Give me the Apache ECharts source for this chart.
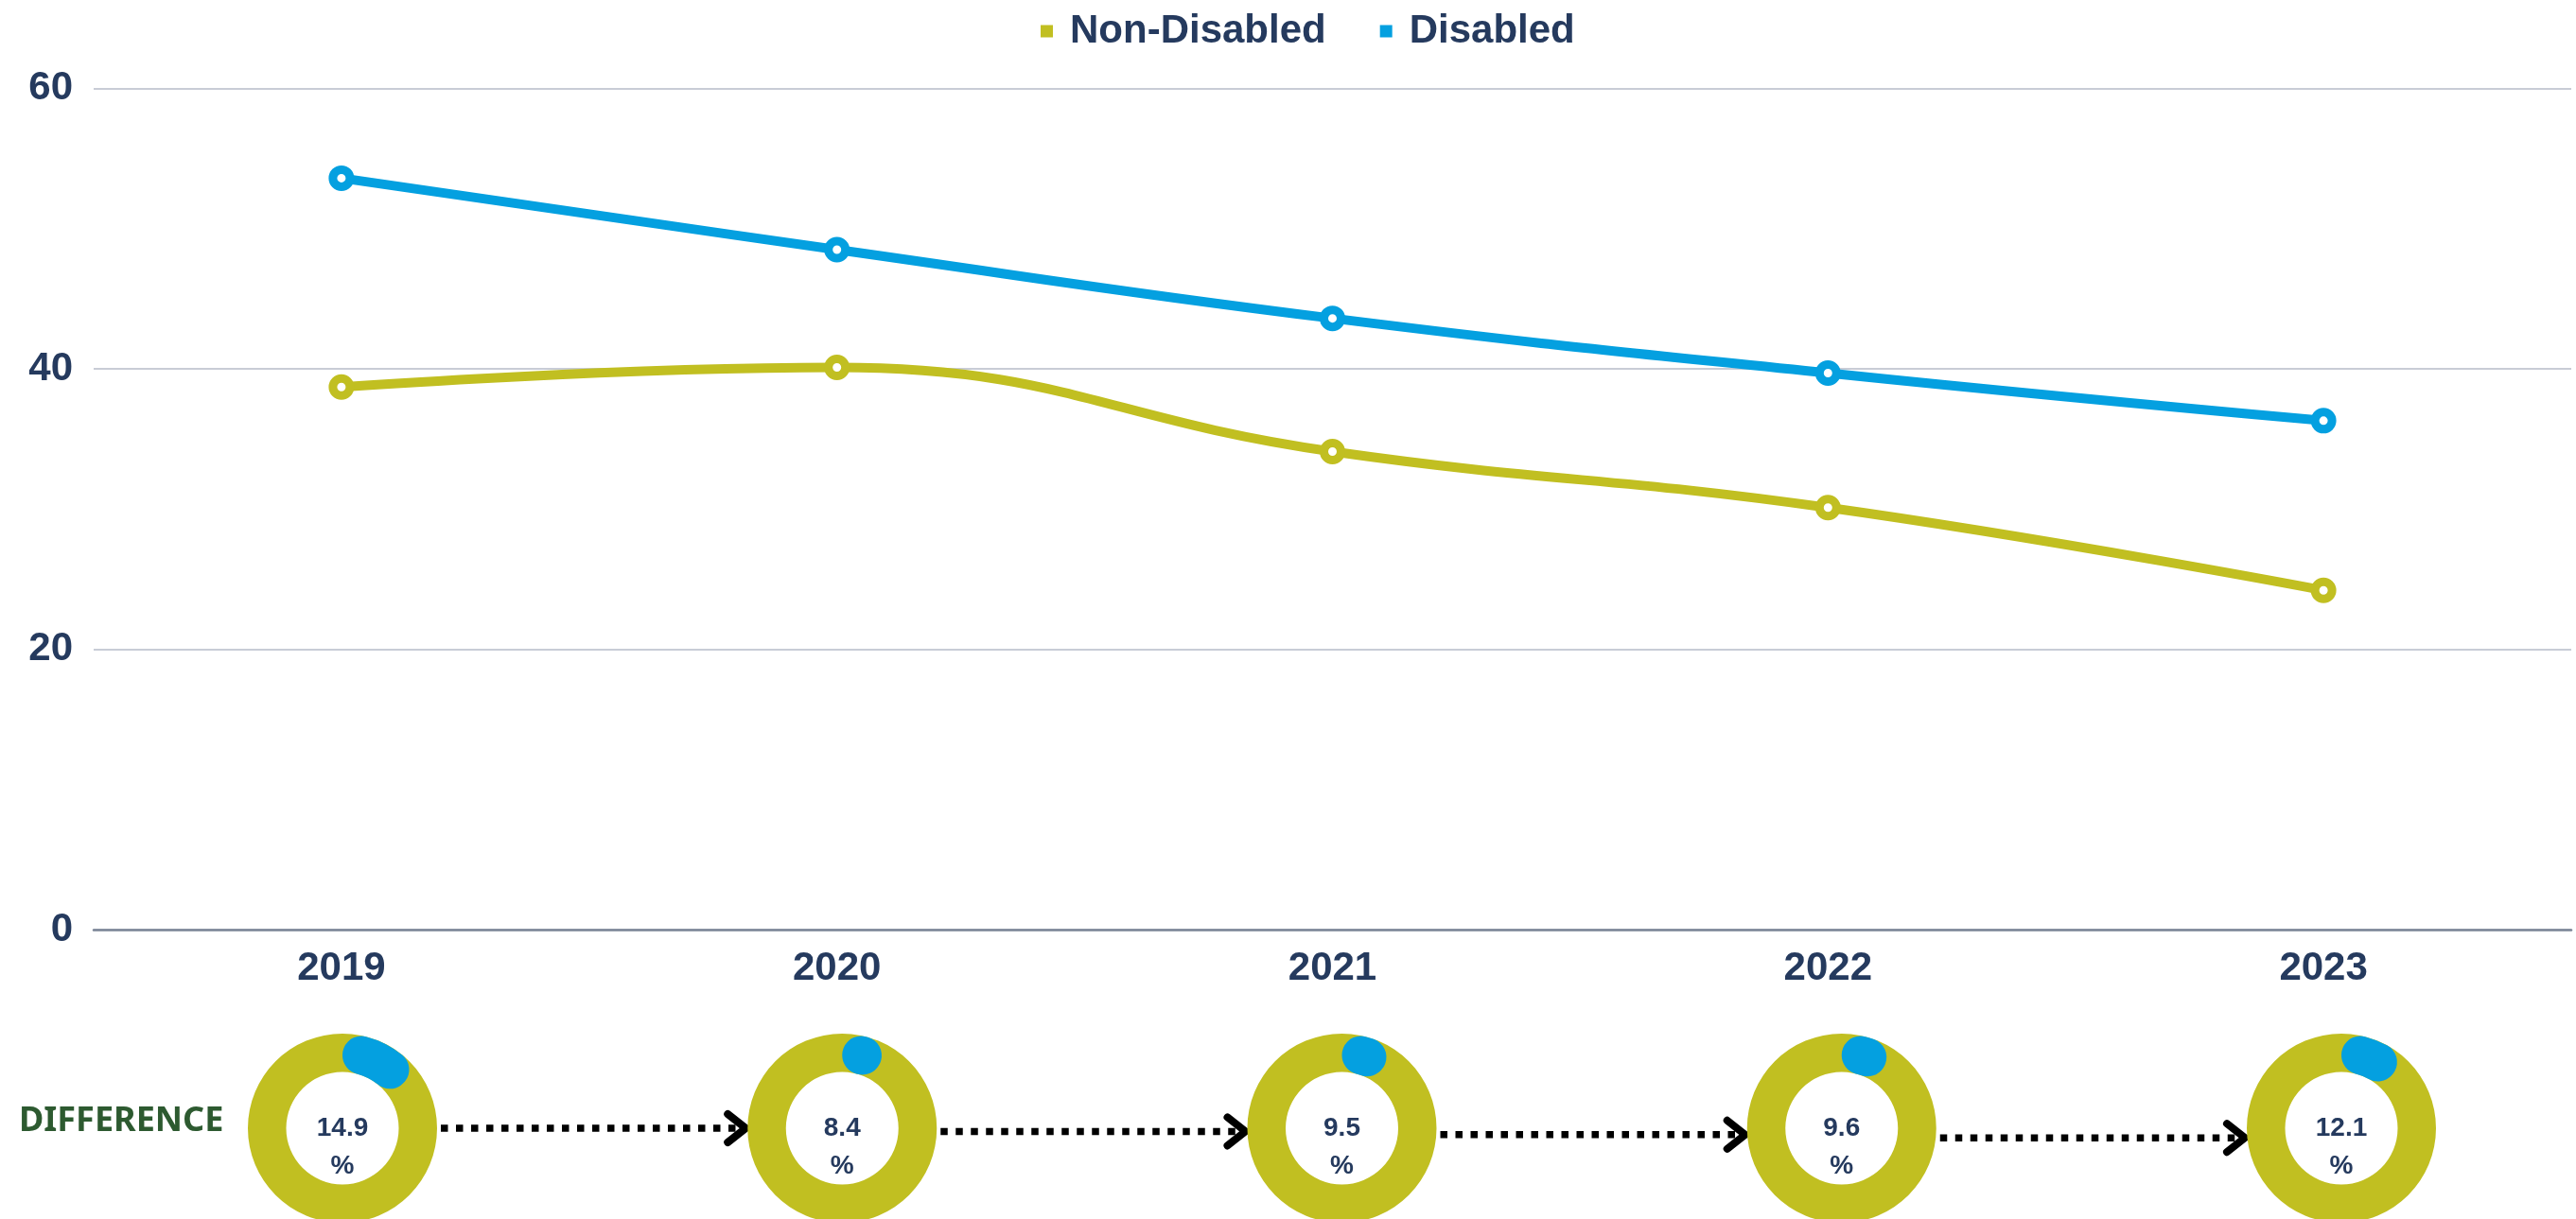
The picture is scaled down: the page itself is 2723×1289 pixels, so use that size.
<!DOCTYPE html>
<html>
<head>
<meta charset="utf-8">
<style>
  html, body { margin: 0; padding: 0; background: #ffffff; }
  #chart { width: 2723px; height: 1289px; }
</style>
<script src="https://cdn.jsdelivr.net/npm/echarts@6/dist/echarts.min.js"></script>
</head>
<body>
<div id="chart"></div>
<script>
// Years on the category axis
const years = ['2019', '2020', '2021', '2022', '2023'];
// Rate per group, by year
const nonDisabled = [38.7, 40.1, 34.1, 30.1, 24.2];
const disabled = [53.6, 48.5, 43.6, 39.7, 36.3];
// Gap between the two groups, shown in the rings below the axis
const difference = [14.9, 8.4, 9.5, 9.6, 12.1];
// Value axis ticks
const yMin = 0, yMax = 60, yStep = 20;

const NAVY = '#253a5e';
const OLIVE = '#c1bf21';
const BLUE = '#04a0e0';
const FONT = '"Liberation Sans", Arial, sans-serif';

const chart = echarts.init(document.getElementById('chart'), null, { renderer: 'canvas' });

function lineSeries(name, data, color) {
  return {
    name: name, type: 'line', xAxisIndex: 0, yAxisIndex: 0,
    data: data, smooth: 0.45, color: color,
    symbol: 'circle', symbolSize: 18, showAllSymbol: true,
    lineStyle: { color: color, width: 10 },
    itemStyle: { color: '#ffffff', borderColor: color, borderWidth: 9 },
    emphasis: { disabled: true }, z: 3
  };
}

const base = {
  animation: false,
  backgroundColor: '#ffffff',
  legend: {
    left: 1095,
    top: 7,
    icon: 'rect',
    itemWidth: 13,
    itemHeight: 13,
    itemGap: 57,
    selectedMode: false,
    data: [
      { name: 'Non-Disabled', itemStyle: { color: OLIVE, borderWidth: 0 } },
      { name: 'Disabled', itemStyle: { color: BLUE, borderWidth: 0 } }
    ],
    textStyle: {
      fontFamily: FONT, fontSize: 42, fontWeight: 'bold', color: NAVY,
      padding: [0, 0, 0, 13]
    }
  },
  grid: [
    { left: 99, right: 5, top: 93.5, bottom: 306 },
    // layout row for the difference rings
    { left: 362, right: 248, top: 1150, height: 80 }
  ],
  xAxis: [
    {
      type: 'category', gridIndex: 0, data: years, boundaryGap: true,
      axisLine: { show: true, lineStyle: { color: '#7a8496', width: 2.5 } },
      axisTick: { show: false },
      axisLabel: { fontFamily: FONT, fontSize: 42, fontWeight: 'bold', color: NAVY, margin: 20 }
    },
    { type: 'category', gridIndex: 1, data: years, boundaryGap: false, show: false }
  ],
  yAxis: [
    {
      type: 'value', gridIndex: 0, min: yMin, max: yMax, interval: yStep,
      axisLine: { show: false }, axisTick: { show: false },
      splitLine: { lineStyle: { color: '#c8ccd6', width: 2 } },
      axisLabel: {
        fontFamily: FONT, fontSize: 42, fontWeight: 'bold', color: NAVY, margin: 22,
        padding: [0, 0, 12, 0]
      }
    },
    { type: 'value', gridIndex: 1, show: false }
  ],
  series: [
    lineSeries('Non-Disabled', nonDisabled, OLIVE),
    lineSeries('Disabled', disabled, BLUE)
  ],
  graphic: [
    {
      type: 'text', left: 20, top: 1168,
      style: {
        text: 'DIFFERENCE', fontFamily: '"Noto Sans", sans-serif', fontSize: 36,
        fontWeight: 'bold', fill: '#2d5a30'
      }
    }
  ]
};

chart.setOption(base);

// Ring centres come from the hidden layout axis
const ringY = 1193;
const outerR = 100, innerR = 59.5;
const centres = years.map(y => chart.convertToPixel({ xAxisIndex: 1 }, y));

const ringSeries = [];
years.forEach((y, i) => {
  ringSeries.push({
    type: 'pie', silent: true, center: [centres[i], ringY], radius: [innerR, outerR],
    startAngle: 90, label: { show: false }, labelLine: { show: false },
    emphasis: { disabled: true },
    data: [{ value: 100, itemStyle: { color: OLIVE } }]
  });
  ringSeries.push({
    type: 'pie', silent: true, center: [centres[i], ringY], radius: [innerR, outerR],
    startAngle: 90, clockwise: true, avoidLabelOverlap: false,
    emphasis: { disabled: true }, labelLine: { show: false },
    label: {
      show: true, position: 'center', padding: [40, 0, 0, 0],
      formatter: p => '{v|' + p.value + '}\n{p|%}',
      rich: {
        v: { fontFamily: FONT, fontSize: 28, fontWeight: 'bold', color: NAVY, lineHeight: 40 },
        p: { fontFamily: FONT, fontSize: 28, fontWeight: 'bold', color: NAVY, lineHeight: 40 }
      }
    },
    data: [
      { value: difference[i], itemStyle: { color: BLUE, borderRadius: 20 } },
      { value: 100 - difference[i], itemStyle: { color: 'rgba(0,0,0,0)' }, label: { show: false } }
    ]
  });
});

// Dotted arrows linking one ring to the next
const arrows = [];
for (let i = 0; i < years.length - 1; i++) {
  const ay = ringY + 3.4 * i;
  const x0 = centres[i] + outerR + 4;
  const tip = centres[i + 1] - outerR;
  arrows.push({
    type: 'polyline', silent: true,
    shape: { points: [[x0, ay], [tip - 12, ay]] },
    style: { stroke: '#000', lineWidth: 7.5, lineDash: [7.5, 8.5], lineCap: 'butt' }
  });
  arrows.push({
    type: 'polyline', silent: true,
    shape: { points: [[tip - 21, ay - 15], [tip - 2, ay], [tip - 21, ay + 15]] },
    style: { stroke: '#000', lineWidth: 8, lineCap: 'round', lineJoin: 'round', fill: null }
  });
}

chart.setOption({
  series: base.series.concat(ringSeries),
  graphic: base.graphic.concat(arrows)
});
</script>
</body>
</html>
